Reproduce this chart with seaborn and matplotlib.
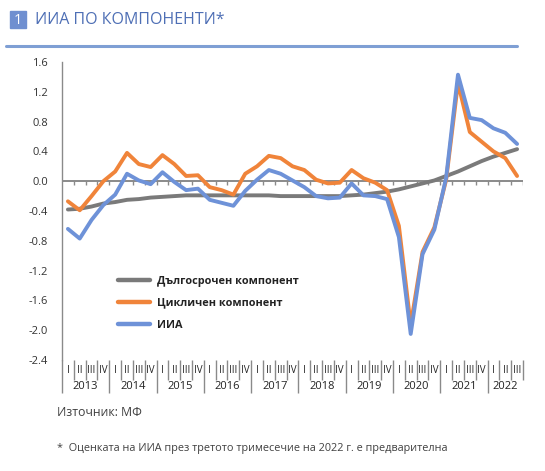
import matplotlib
matplotlib.use("Agg")
from matplotlib import pyplot as plt
from matplotlib.patches import Rectangle
from matplotlib.lines import Line2D
import numpy as np
import pandas as pd
import seaborn as sns

# тримесечия 2013 I - 2022 III
years = [str(y) for y in range(2013, 2023)]
quarter_names = ["I", "II", "III", "IV"]
quarter_labels = (quarter_names * 10)[:39]

long_term = [-0.38, -0.37, -0.34, -0.30, -0.28, -0.25, -0.24, -0.22, -0.21, -0.20,
             -0.19, -0.19, -0.19, -0.19, -0.19, -0.19, -0.19, -0.19, -0.20, -0.20,
             -0.20, -0.20, -0.20, -0.20, -0.19, -0.18, -0.16, -0.14, -0.11, -0.07,
             -0.03, 0.01, 0.07, 0.13, 0.20, 0.27, 0.33, 0.38, 0.43]
cyclical = [-0.27, -0.39, -0.20, 0.00, 0.13, 0.38, 0.23, 0.19, 0.35, 0.23,
            0.07, 0.08, -0.08, -0.12, -0.18, 0.10, 0.20, 0.34, 0.31, 0.20,
            0.15, 0.02, -0.03, -0.02, 0.15, 0.04, -0.02, -0.12, -0.60, -1.93,
            -0.95, -0.62, 0.02, 1.32, 0.66, 0.53, 0.40, 0.31, 0.07]
iia = [-0.64, -0.77, -0.52, -0.32, -0.18, 0.10, 0.01, -0.04, 0.12, -0.01,
       -0.12, -0.10, -0.25, -0.29, -0.33, -0.13, 0.02, 0.15, 0.10, 0.01,
       -0.08, -0.20, -0.23, -0.22, -0.03, -0.19, -0.20, -0.24, -0.75, -2.05,
       -0.98, -0.65, 0.05, 1.43, 0.85, 0.82, 0.71, 0.65, 0.50]

names = ["Дългосрочен компонент", "Цикличен компонент", "ИИА"]
colors = ["#7a7a7a", "#f0843a", "#6e92d8"]

df = pd.DataFrame({"q": np.arange(len(iia)),
                   names[0]: long_term, names[1]: cyclical, names[2]: iia})
long_df = df.melt(id_vars="q", var_name="series", value_name="value")

sns.set_theme(style="white")
plt.rcParams["font.family"] = ["Open Sans", "DejaVu Sans"]

fig = plt.figure(figsize=(5.45, 4.71), dpi=100)
ax = fig.add_axes([62 / 545, 1 - 360 / 471, 461 / 545, 298 / 471])

sns.lineplot(data=long_df, x="q", y="value", hue="series", hue_order=names,
             palette=colors, linewidth=2.8, ax=ax, legend=False)
for line in ax.lines:
    line.set_solid_joinstyle("round")
    line.set_solid_capstyle("round")

ax.set_xlim(-0.5, 38.5)
ax.set_ylim(-2.4, 1.6)
yt = np.round(np.arange(-2.4, 1.61, 0.4), 1)
ax.set_yticks(yt)
ax.set_yticklabels([f"{abs(v):.1f}" if v == 0 else f"{v:.1f}" for v in yt],
                   fontsize=8, color="#333333")
ax.set_xlabel("")
ax.set_ylabel("")

for s in ["top", "right", "bottom"]:
    ax.spines[s].set_visible(False)
ax.spines["left"].set_color("#8a8a8a")
ax.spines["left"].set_linewidth(1.0)
ax.tick_params(axis="y", direction="out", length=4, width=1, color="#8a8a8a", pad=6)

# нулева линия с деления по тримесечия
ax.axhline(0, color="#8a8a8a", linewidth=1.4, zorder=1)
bounds = np.arange(0.5, 39.0, 1.0)
ax.vlines(bounds, -0.045, 0, color="#8a8a8a", linewidth=1.0, zorder=1)

# категорийна ос: тримесечия и години
ax.set_xticks(np.arange(-0.5, 39.0, 4.0))
ax.set_xticks(np.arange(-0.5, 39.0, 1.0), minor=True)
ax.set_xticklabels([])
ax.tick_params(axis="x", which="major", direction="out", length=24, width=1,
               color="#8a8a8a", bottom=True)
ax.tick_params(axis="x", which="minor", direction="out", length=14.5, width=1,
               color="#8a8a8a", bottom=True)
tr = ax.get_xaxis_transform()
for i, lab in enumerate(quarter_labels):
    ax.text(i, -0.034, lab, transform=tr, ha="center", va="center",
            fontsize=7, color="#222222")
for k, yr in enumerate(years):
    end = min(4 * k + 4, 39)
    ax.text((4 * k + end - 1) / 2, -0.088, yr, transform=tr, ha="center",
            va="center", fontsize=8, color="#222222")

handles = [Line2D([], [], color=c, linewidth=3.2) for c in colors]
leg = ax.legend(handles, names, loc="upper left", bbox_to_anchor=(0.1, 0.315),
                frameon=False, handlelength=3.0, labelspacing=1.0,
                prop={"size": 7.8, "weight": "bold"}, handletextpad=0.6)
for t in leg.get_texts():
    t.set_color("#222222")

# заглавие
fig.patches.append(Rectangle((10 / 545, 1 - 28 / 471), 16 / 545, 17 / 471,
                             transform=fig.transFigure, color="#6f8fd0"))
fig.text(18 / 545, 1 - 20 / 471, "1", color="white", fontsize=10.5,
         ha="center", va="center")
fig.text(35 / 545, 1 - 20 / 471, "ИИА ПО КОМПОНЕНТИ*", color="#4e6fb5",
         fontsize=11.5, ha="left", va="center")
fig.lines.append(Line2D([6 / 545, 517 / 545], [1 - 46 / 471, 1 - 46 / 471],
                        transform=fig.transFigure, color="#7f9fd4", linewidth=2.2))

fig.text(57 / 545, 1 - 413 / 471, "Източник: МФ", color="#404040",
         fontsize=8.8, ha="left", va="center")
fig.text(57 / 545, 1 - 448 / 471,
         "*  Оценката на ИИА през третото тримесечие на 2022 г. е предварителна",
         color="#404040", fontsize=7.8, ha="left", va="center")

fig.savefig("out.png", dpi=100)
